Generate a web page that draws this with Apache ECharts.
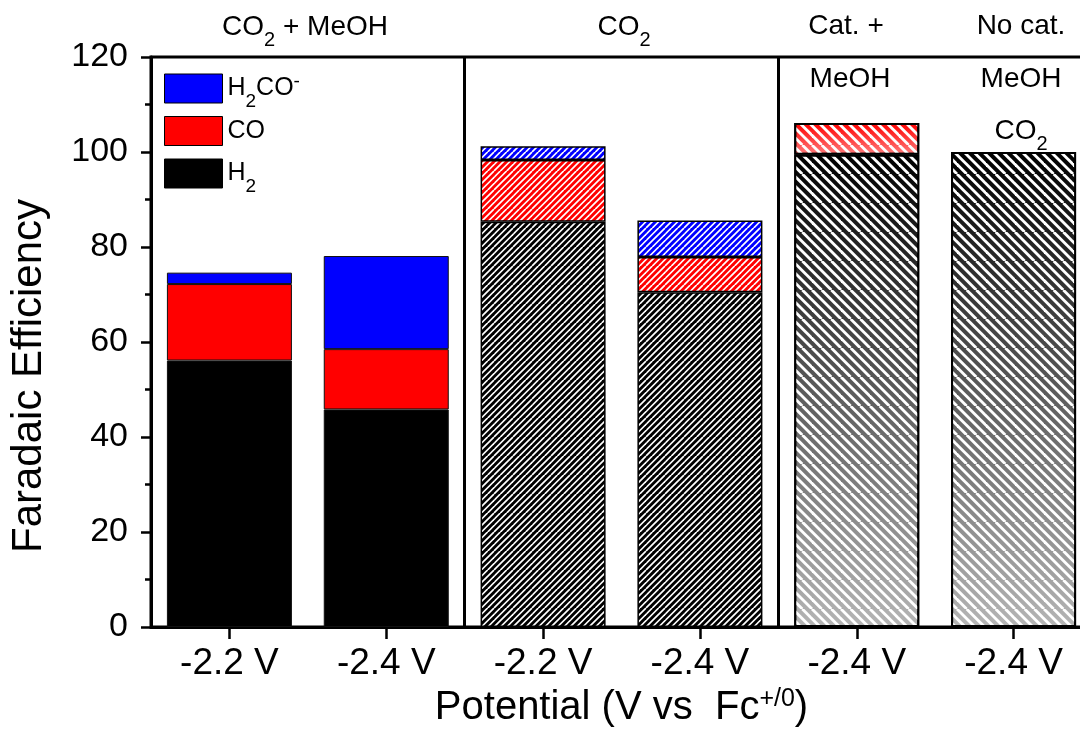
<!DOCTYPE html>
<html>
<head>
<meta charset="utf-8">
<script src="https://cdn.jsdelivr.net/npm/echarts@6/dist/echarts.min.js"></script>
<style>
html,body{margin:0;padding:0;background:#fff;}
#chart{width:1080px;height:735px;}
</style>
</head>
<body>
<div id="chart"></div>
<script>
// ---- data ----
const categories = ['-2.2 V', '-2.4 V', '-2.2 V', '-2.4 V', '-2.4 V', '-2.4 V'];
const h2Values   = [56.1, 45.8, 85.3, 70.5, 99.4, 100.0];
const coValues   = [16.1, 12.7, 13.0, 7.4, 6.7, null];
const h2coValues = [2.4, 19.6, 2.9, 7.7, null, null];
const yMin = 0, yMax = 120, yStep = 20;
const seriesNames = ['H2', 'CO', 'H2CO-'];
const legendOrder = ['H2CO-', 'CO', 'H2'];

// ---- styling ----
const FONT = 'Liberation Sans, Arial, sans-serif';

// diagonal stripe tile; bg may be null (transparent)
function stripeTile(bg, n, m, lw, dir) {
  const c = document.createElement('canvas');
  c.width = n; c.height = n;
  const ctx = c.getContext('2d');
  if (bg) { ctx.fillStyle = bg; ctx.fillRect(0, 0, n, n); }
  ctx.strokeStyle = '#ffffff'; ctx.lineWidth = lw;
  const p = n / m;
  for (let j = -m; j <= 2 * m; j++) {
    const cx = j * p;
    ctx.beginPath();
    if (dir === '/') { ctx.moveTo(cx, 0); ctx.lineTo(cx - n, n); }
    else { ctx.moveTo(cx, 0); ctx.lineTo(cx + n, n); }
    ctx.stroke();
  }
  return { image: c, repeat: 'repeat' };
}
function fade(top, bottom) {
  return { type: 'linear', x: 0, y: 0, x2: 0, y2: 1,
    colorStops: [{ offset: 0, color: top }, { offset: 1, color: bottom }] };
}
const palette = {
  'H2':    { base: '#000000', fadeEnd: '#b5b5b5' },
  'CO':    { base: '#ff0000', fadeEnd: '#ff7d7d' },
  'H2CO-': { base: '#0000ff', fadeEnd: '#8080ff' }
};
const wideStripes = stripeTile(null, 29, 3, 2.8, '\\');
function itemStyleFor(name, i) {
  const p = palette[name];
  if (i < 2) return { color: p.base, borderColor: '#111', borderWidth: 1 };
  if (i < 4) return { color: stripeTile(p.base, 19, 3, 1.7, '/'), borderColor: '#000', borderWidth: 1.5 };
  return { color: fade(p.base, p.fadeEnd), borderColor: '#000', borderWidth: 2 };
}
const valuesByName = { 'H2': h2Values, 'CO': coValues, 'H2CO-': h2coValues };

const legendRich = {
  n: { fontSize: 25, lineHeight: 29, fontFamily: FONT, color: '#000' },
  s: { fontSize: 19, lineHeight: 29, fontFamily: FONT, color: '#000', padding: [26, 0, 0, 0] },
  p: { fontSize: 19, lineHeight: 29, fontFamily: FONT, color: '#000', padding: [0, 0, 14, 0] }
};
const legendText = { 'H2CO-': '{n|H}{s|2}{n|CO}{p|-}', 'CO': '{n|CO}', 'H2': '{n|H}{s|2}' };

const topRich = {
  n: { fontSize: 28, lineHeight: 32, fontFamily: FONT, fill: '#000' },
  s: { fontSize: 20, lineHeight: 32, fontFamily: FONT, fill: '#000', padding: [25, 0, 0, 0] }
};
function label(text, x, y) {
  return { type: 'text', x: x, y: y, z: 10, silent: true,
    style: { text: text, rich: topRich, align: 'center', verticalAlign: 'middle',
      textAlign: 'center', textVerticalAlign: 'middle', fontSize: 28, fontFamily: FONT, fill: '#000' } };
}

const baseSeries = seriesNames.map(name => ({
  name: name, type: 'bar', stack: 'fe', barWidth: 125, barGap: '-100%',
  itemStyle: { color: palette[name].base, borderColor: '#000', borderWidth: 1 },
  emphasis: { disabled: true },
  data: valuesByName[name].map((v, i) => ({ value: v == null ? '-' : v, itemStyle: itemStyleFor(name, i) }))
}));
// white stripes laid over the shaded (gradient) bars
const stripeSeries = seriesNames.map(name => ({
  name: name + ' stripes', type: 'bar', stack: 'stripes', barWidth: 125, barGap: '-100%', silent: true,
  itemStyle: { color: wideStripes, borderColor: '#000', borderWidth: 2 },
  emphasis: { disabled: true },
  data: valuesByName[name].map((v, i) => (i >= 4 && v != null) ? v : '-')
}));

const chart = echarts.init(document.getElementById('chart'), null, { renderer: 'canvas' });
chart.setOption({
  animation: false,
  backgroundColor: '#fff',
  grid: { left: 151, top: 57, width: 941, bottom: 108, outerBoundsMode: 'none', containLabel: false,
    show: true, borderColor: '#000', borderWidth: 3, backgroundColor: 'transparent' },
  legend: {
    data: legendOrder, orient: 'vertical', left: 164, top: 66, padding: 0,
    itemWidth: 58, itemHeight: 29, itemGap: 5,
    icon: 'rect', selectedMode: false,
    itemStyle: { borderColor: '#000', borderWidth: 1 },
    formatter: name => legendText[name],
    textStyle: { fontSize: 25, color: '#000', fontFamily: FONT, rich: legendRich }
  },
  xAxis: {
    type: 'category', data: categories, boundaryGap: true,
    axisLine: { show: true, lineStyle: { color: '#000', width: 3 } },
    axisTick: { show: true, alignWithLabel: true, length: 12, lineStyle: { color: '#000', width: 2.5 } },
    axisLabel: { fontSize: 37, color: '#000', fontFamily: FONT, margin: 18, interval: 0 },
    splitLine: { show: true, interval: (i) => i === 2 || i === 4, lineStyle: { color: '#000', width: 3 } },
    name: '{n|Potential (V vs  Fc}{p|+/0}{n|)}', nameLocation: 'middle', nameGap: 60,
    nameTextStyle: { fontSize: 40, color: '#000', fontFamily: FONT, rich: {
      n: { fontSize: 40, lineHeight: 42, fontFamily: FONT, color: '#000' },
      p: { fontSize: 25, lineHeight: 42, fontFamily: FONT, color: '#000', padding: [0, 0, 18, 0] } } }
  },
  yAxis: {
    type: 'value', min: yMin, max: yMax, interval: yStep,
    axisLine: { show: true, lineStyle: { color: '#000', width: 3 } },
    axisTick: { show: true, length: 10, lineStyle: { color: '#000', width: 2.5 } },
    minorTick: { show: true, splitNumber: 2, length: 6, lineStyle: { color: '#000', width: 2.5 } },
    axisLabel: { fontSize: 34, color: '#000', fontFamily: FONT, margin: 23 },
    splitLine: { show: false },
    name: 'Faradaic Efficiency', nameLocation: 'middle', nameGap: 101,
    nameTextStyle: { fontSize: 42, color: '#000', fontFamily: FONT, padding: [0, 68, 0, 0] }
  },
  series: baseSeries.concat(stripeSeries),
  graphic: [
    label('{n|CO}{s|2}{n| + MeOH}', 305, 27.5),
    label('{n|CO}{s|2}', 624, 27.5),
    label('{n|Cat. +}', 846, 26),
    label('{n|No cat.}', 1021, 26),
    label('{n|MeOH}', 850, 79),
    label('{n|MeOH}', 1021, 79),
    label('{n|CO}{s|2}', 1021, 131.5)
  ]
});
</script>
</body>
</html>
